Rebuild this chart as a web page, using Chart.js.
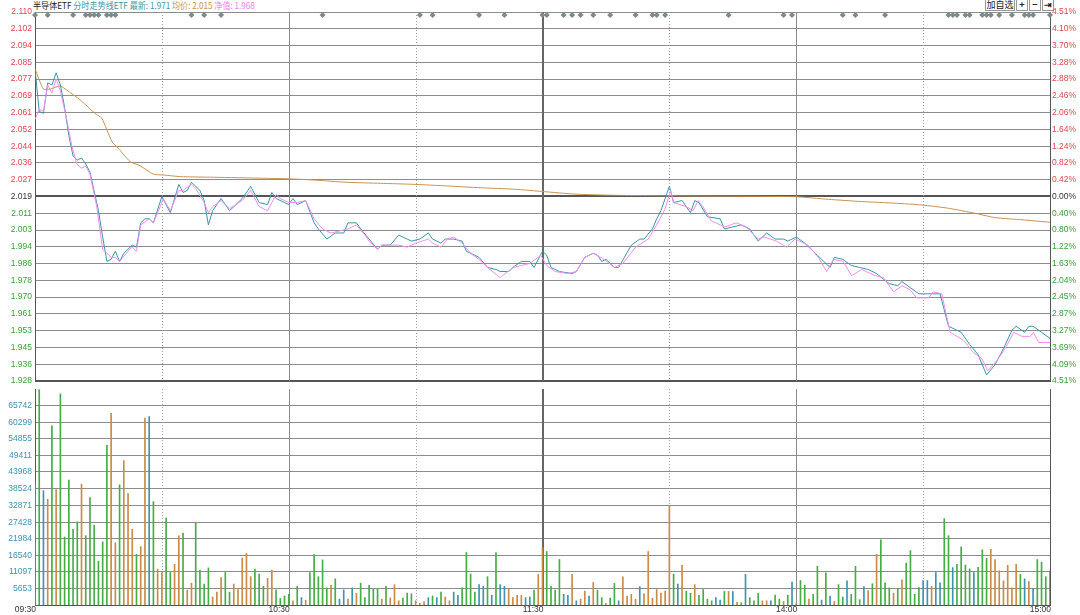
<!DOCTYPE html>
<html>
<head>
<meta charset="utf-8">
<script src="https://cdn.jsdelivr.net/npm/chart.js@4.4.0/dist/chart.umd.min.js"></script>
<style>
    body { margin: 0; background: #fff; width: 1080px; height: 615px; overflow: hidden; position: relative; }
    #priceChart { position: absolute; left: 0; top: 0; }
    #volChart { position: absolute; left: 0; top: 381px; }
    #title {
        position: absolute; left: 33px; top: 0; font-size: 9px; line-height: 11px; white-space: nowrap;
        font-family: "Noto Sans CJK SC", "Liberation Sans", sans-serif; transform: scaleX(0.9); transform-origin: left top;
    }
    #tools { position: absolute; left: 985px; top: 0; height: 11px; display: flex; font-family: "Noto Sans CJK SC", sans-serif; }
    #tools span {
        display: block; height: 10px; line-height: 10px; border: 1px solid #999; border-top: none; font-size: 9px;
        color: #222; text-align: center; margin-right: 1px; background: #fff;
    }
</style>
</head>
<body>
<div id="title"><span style="color:#222">半导体ETF</span> <span style="color:#3a9aa6">分时走势线ETF 最新: 1.971</span> <span style="color:#c8924c">均价: 2.015</span> <span style="color:#f27df2">净值: 1.968</span></div>
<div id="tools"><span style="width:28px">加自选</span><span style="width:10px;font-weight:bold">+</span><span style="width:10px;font-weight:bold">−</span><span style="width:10px;font-weight:bold">⇥</span></div>
<canvas id="priceChart" width="1080" height="392"></canvas>
<canvas id="volChart" width="1080" height="234"></canvas>
<script>
// minutes from 09:30 (0) to 15:00 (240), midday break removed
const timeTicks = [0, 60, 120, 180, 240];
const timeLabels = ['09:30', '10:30', '11:30', '14:00', '15:00'];

const priceTickLabels = ['2.110', '2.102', '2.094', '2.085', '2.077', '2.069', '2.061', '2.052', '2.044', '2.036', '2.027', '2.019',
    '2.011', '2.003', '1.994', '1.986', '1.978', '1.970', '1.961', '1.953', '1.945', '1.936', '1.928'];
const pctTickLabels = ['4.51%', '4.10%', '3.70%', '3.28%', '2.88%', '2.46%', '2.06%', '1.64%', '1.24%', '0.82%', '0.42%', '0.00%',
    '0.40%', '0.80%', '1.22%', '1.63%', '2.04%', '2.45%', '2.87%', '3.27%', '3.69%', '4.09%', '4.51%'];
const volTickLabels = [65742, 60299, 54855, 49411, 43968, 38524, 32871, 27428, 21984, 16540, 11097, 5653];

// 分时 price line
const priceT = [0, 1, 2, 3, 4, 5, 6, 7, 8, 9, 10, 11, 12, 13, 15, 16, 17, 18, 19, 20, 21, 23, 24, 25, 26, 27, 28, 30, 32, 34,
    35, 36, 37, 39, 40, 41, 42, 44, 46, 49, 51, 53, 55, 56, 57, 60, 61, 62, 64, 66, 67, 69, 71, 73, 74, 76, 77, 79, 81, 82,
    84, 86, 88, 89, 91, 93, 94, 96, 97, 99, 101, 102, 104, 105, 107, 109, 110, 112, 113, 115, 117, 118, 120, 121, 122, 124, 127, 128, 130, 132,
    133, 134, 135, 137, 138, 141, 143, 144, 146, 147, 148, 150, 151, 153, 155, 156, 157, 159, 162, 163, 165, 167, 169, 171, 173, 175, 177, 178, 180, 182,
    185, 188, 189, 191, 193, 195, 197, 199, 202, 204, 205, 207, 209, 211, 212, 214, 216, 219, 221, 223, 225, 227, 229, 231, 232, 234, 235, 236, 238, 240];
const priceV = [2.082, 2.061, 2.060, 2.075, 2.074, 2.080, 2.074, 2.063, 2.049, 2.039, 2.037, 2.038, 2.035, 2.031, 2.012, 1.999, 1.987, 1.988, 1.992, 1.987,
    1.991, 1.995, 1.994, 2.006, 2.008, 2.008, 2.006, 2.019, 2.011, 2.025, 2.021, 2.022, 2.026, 2.022, 2.017, 2.005, 2.012, 2.018, 2.012, 2.018,
    2.024, 2.016, 2.015, 2.021, 2.018, 2.015, 2.018, 2.015, 2.017, 2.006, 2.003, 1.998, 2.001, 2.001, 2.006, 2.006, 2.003, 1.998, 1.993, 1.995,
    1.995, 2.000, 1.998, 1.997, 1.998, 2.001, 1.998, 1.996, 1.998, 1.998, 1.997, 1.992, 1.990, 1.989, 1.984, 1.983, 1.982, 1.982, 1.984, 1.987,
    1.987, 1.984, 1.992, 1.990, 1.984, 1.982, 1.981, 1.982, 1.989, 1.991, 1.990, 1.987, 1.988, 1.984, 1.984, 1.995, 1.998, 1.998, 2.003, 2.008,
    2.012, 2.024, 2.016, 2.017, 2.011, 2.017, 2.016, 2.009, 2.008, 2.003, 2.004, 2.005, 2.003, 1.997, 2.001, 1.998, 1.998, 1.997, 1.999, 1.996,
    1.990, 1.984, 1.989, 1.988, 1.985, 1.984, 1.983, 1.981, 1.976, 1.975, 1.977, 1.974, 1.971, 1.971, 1.971, 1.971, 1.955, 1.952, 1.946, 1.941,
    1.931, 1.936, 1.944, 1.953, 1.955, 1.952, 1.955, 1.955, 1.952, 1.949];

// 净值 line
const netT = [0, 1, 2, 3, 4, 5, 6, 7.5, 8.7, 9.9, 11, 12, 13, 14.6, 16, 18, 19, 20, 22, 23, 24, 25, 27, 28, 29.6, 30.3, 32, 34, 35, 37,
    38, 40, 41, 42, 44, 46, 49, 51, 53, 55, 57, 58, 60, 62, 64, 66, 68, 70, 72, 74, 76, 78, 79, 81, 82, 86, 88, 90, 93, 94,
    96, 97.5, 99, 101, 103, 105, 107, 110, 113, 115, 117, 119.6, 121, 123, 126, 128, 130, 132, 134.6, 137, 139, 142, 145, 147, 149, 150.3, 151, 154, 155.6, 156.8,
    157.9, 159.9, 163.1, 165.8, 168.2, 171, 172.5, 175.3, 177.7, 179.7, 182.8, 185.2, 187.2, 188.8, 191.1, 193.1, 195.5, 198.6, 200.6, 203, 205, 206.9, 208.5, 211.3, 212.4, 214.4, 216.4, 219.6, 221.9, 223.9,
    225.3, 227.4, 229.4, 231.4, 233.4, 235.3, 236.1, 237.3, 240];
const netV = [2.057, 2.062, 2.061, 2.074, 2.070, 2.077, 2.071, 2.057, 2.044, 2.035, 2.033, 2.034, 2.030, 2.014, 1.993, 1.989, 1.989, 1.987, 1.992, 1.994,
    1.992, 2.005, 2.008, 2.006, 2.014, 2.018, 2.012, 2.022, 2.022, 2.025, 2.023, 2.016, 2.011, 2.014, 2.017, 2.013, 2.017, 2.022, 2.014, 2.012,
    2.020, 2.018, 2.016, 2.016, 2.017, 2.008, 2.003, 2.001, 2.002, 2.003, 2.005, 2.000, 1.997, 1.993, 1.995, 1.995, 1.994, 1.996, 1.998, 1.996,
    1.994, 1.998, 1.999, 1.996, 1.991, 1.988, 1.984, 1.979, 1.984, 1.985, 1.986, 1.990, 1.985, 1.982, 1.981, 1.982, 1.989, 1.991, 1.988, 1.984,
    1.986, 1.994, 1.998, 2.005, 2.013, 2.022, 2.016, 2.014, 2.012, 2.017, 2.014, 2.007, 2.004, 2.006, 2.004, 1.998, 1.999, 1.997, 1.994, 1.998,
    1.995, 1.989, 1.982, 1.988, 1.987, 1.980, 1.983, 1.980, 1.979, 1.972, 1.975, 1.973, 1.969, 1.969, 1.972, 1.971, 1.952, 1.948, 1.942, 1.939,
    1.933, 1.938, 1.944, 1.952, 1.950, 1.950, 1.952, 1.947, 1.947];

// 均价 line
const avgT = [0, 2, 3.6, 5.9, 7.5, 10.7, 14.2, 15.8, 18.2, 19.7, 22.5, 24.9, 28, 30.4, 34.4, 42.2, 54.1, 60.4, 66, 73.8,
    81.7, 89.6, 97.5, 105.4, 113.3, 120.4, 127.5, 137, 152.8, 179.7, 187.6, 195.5, 203.4, 209.7, 216, 222.3, 227, 233.4, 240];
const avgV = [2.082, 2.072, 2.072, 2.0735, 2.0715, 2.0666, 2.060, 2.0576, 2.046, 2.0428, 2.0362, 2.0341, 2.030, 2.0296, 2.0288, 2.0285, 2.028, 2.0277, 2.0271, 2.026,
    2.0255, 2.025, 2.0242, 2.0233, 2.0226, 2.0214, 2.0202, 2.0196, 2.0193, 2.0189, 2.0176, 2.0165, 2.0157, 2.0148, 2.0132, 2.0107, 2.0086, 2.0075, 2.0063];

// signal markers along the top edge (minutes)
const markT = [0, 3, 9, 12, 13, 14, 15, 17, 18, 19, 37, 40, 44, 68, 91, 94, 105, 111, 120, 121, 125, 127, 129, 132, 136, 142, 146, 147, 149,
    164, 177, 179, 191, 194, 201, 216, 217, 218, 220, 221, 224, 225, 226, 228, 231, 234, 235, 236, 240];

// per-minute volume, one bar each minute
const volume = [
    40770, 71000, 37800, 34960, 59110, 38140, 69600, 22560, 41310, 25100,
    27550, 39940, 22980, 35490, 26470, 14620, 20970, 52660, 63240, 20660,
    39720, 47670, 36860, 25100, 16840, 19390, 61650, 62180, 34220, 11980,
    10900, 28820, 10900, 13570, 22980, 23830, 5085, 7400, 27230, 11660,
    7090, 12390, 2860, 4450, 9220, 10900, 4450, 7090, 5300, 15670,
    17160, 9530, 11980, 10390, 6360, 8990, 11660, 5180, 2320, 3180,
    3720, 1590, 6360, 2640, 1810, 10900, 16750, 9530, 15030, 5820,
    6670, 8800, 2130, 5180, 2130, 5820, 4040, 7400, 2640, 6670,
    5500, 5500, 2130, 6360, 2540, 6900, 1590, 2450, 4130, 3910,
    1590, 730, 1370, 2640, 3180, 2640, 4450, 2860, 1590, 4450,
    3400, 5820, 17480, 10390, 4450, 6900, 6360, 9530, 3400, 17480,
    6900, 6360, 5500, 2640, 3400, 3400, 2640, 2860, 5085, 10270,
    19070, 17800, 6360, 5085, 15160, 3720, 3400, 10270, 1590, 2130,
    4770, 3180, 7630, 5085, 2640, 730, 2450, 7310, 1590, 9440,
    3180, 3720, 2130, 6260, 3910, 17800, 2450, 5300, 4130, 4770,
    32640, 10390, 7090, 13250, 4770, 4040, 6900, 3400, 5300, 2130,
    1590, 2640, 1810, 4660, 4660, 4660, 1070, 950, 10270, 2640,
    1590, 4040, 1590, 1590, 1590, 3500, 2130, 1370, 3400, 7730,
    730, 8260, 6670, 2130, 3720, 12930, 1810, 10800, 3180, 1370,
    6900, 2860, 8160, 3720, 12930, 1970, 6260, 4980, 7200, 16840,
    21610, 7520, 5820, 4130, 5500, 8480, 13980, 18110, 3720, 5930,
    8260, 8260, 6360, 10900, 7520, 28600, 22980, 12490, 13570, 19290,
    13350, 12080, 10900, 12620, 18340, 15570, 18530, 15160, 11440, 8160,
    13250, 5820, 13570, 10270, 8800, 7940, 5600, 15160, 14300, 9530,
    11440
];
// tick direction of each minute: u = up, d = down, f = flat
const volDir = ('fdfududddd' + 'dudddddduu' + 'duuuduufdu' + 'udduuduudd' + 'dduuudduuu' +
    'uuddduuddd' + 'dudfuddddd' + 'udffufuddd' + 'dduduuuddd' + 'uuufdfduuf' +
    'fddddffdfd' + 'ffuuuuffdu' + 'uddddffufu' + 'ufudduddfu' + 'uuufuuuuuu' +
    'udfudduddd' + 'dffdufudfd' + 'dduufddudf' + 'udduddfdfu' + 'ddfdddfudu' +
    'dddududddd' + 'ffuffddfdd' + 'ddfddduuuu' + 'uuudfufdddd').split('');

const FONT = { family: '"Liberation Sans", Arial, sans-serif', size: 8.5 };
const RED = '#e2474c';
const GREEN = '#36a336';
const DARK = '#333';
const GRID = '#8d8d8d';
const dirColor = { u: '#c98b45', d: '#44ad44', f: '#3d93b3' };

const priceMin = 1.928;
const priceMax = 2.110;
const priceStep = (priceMax - priceMin) / (priceTickLabels.length - 1);
const volStep = volTickLabels[0] - volTickLabels[1];
const volMax = volTickLabels[0] + volStep;
const volMin = volTickLabels[volTickLabels.length - 1] - volStep;

const toPoints = (ts, vs) => ts.map((t, i) => ({ x: t, y: vs[i] }));

// session dividers: dotted on the half hours, solid on the hours, darker at lunch break
const timeLines = {
    id: 'timeLines',
    beforeDatasetsDraw(chart) {
        const { ctx, chartArea } = chart;
        const x = chart.scales.x;
        const lines = [
            { t: 30, c: '#a0a0a0', w: 1, dash: [1, 2] },
            { t: 60, c: '#8a8a8a', w: 1, dash: [] },
            { t: 90, c: '#a0a0a0', w: 1, dash: [1, 2] },
            { t: 120, c: '#666', w: 2, dash: [] },
            { t: 150, c: '#a0a0a0', w: 1, dash: [1, 2] },
            { t: 180, c: '#8a8a8a', w: 1, dash: [] },
            { t: 210, c: '#a0a0a0', w: 1, dash: [1, 2] },
            { t: 240, c: '#555', w: 1, dash: [] }
        ];
        ctx.save();
        lines.forEach(l => {
            const px = Math.round(x.getPixelForValue(l.t)) + (l.w === 1 ? 0.5 : 0);
            ctx.strokeStyle = l.c;
            ctx.lineWidth = l.w;
            ctx.setLineDash(l.dash);
            ctx.beginPath();
            ctx.moveTo(px, chartArea.top);
            ctx.lineTo(px, chartArea.bottom);
            ctx.stroke();
        });
        ctx.restore();
    }
};

const markers = {
    id: 'markers',
    afterDatasetsDraw(chart) {
        const { ctx, chartArea } = chart;
        const x = chart.scales.x;
        const y = chartArea.top + 3;
        ctx.save();
        ctx.fillStyle = '#7d8a8a';
        markT.forEach(t => {
            const px = x.getPixelForValue(t);
            ctx.beginPath();
            ctx.moveTo(px, y - 3);
            ctx.lineTo(px + 3, y);
            ctx.lineTo(px, y + 3);
            ctx.lineTo(px - 3, y);
            ctx.closePath();
            ctx.fill();
        });
        ctx.restore();
    }
};

// time labels sit right-aligned against their tick, just under the volume panel
const timeAxisLabels = {
    id: 'timeAxisLabels',
    afterDraw(chart) {
        const { ctx, chartArea } = chart;
        const x = chart.scales.x;
        ctx.save();
        ctx.font = '8.5px "Liberation Sans", Arial, sans-serif';
        ctx.fillStyle = DARK;
        ctx.textAlign = 'right';
        ctx.textBaseline = 'middle';
        timeTicks.forEach((t, i) => {
            ctx.fillText(timeLabels[i], x.getPixelForValue(t) + 1, chartArea.bottom + 5);
        });
        ctx.restore();
    }
};

function priceTicks(scale) {
    scale.ticks = priceTickLabels.map((_, i) => ({ value: priceMin + i * priceStep }));
}
const mid = (priceTickLabels.length - 1) / 2;
const sideColor = (ctx) => ctx.index > mid ? RED : (ctx.index < mid ? GREEN : DARK);

document.addEventListener("DOMContentLoaded", () => {
    new Chart(document.getElementById('priceChart'), {
        type: 'line',
        data: {
            datasets: [
                { label: '净值', data: toPoints(netT, netV), borderColor: '#f58cf5', borderWidth: 1, pointRadius: 0, tension: 0 },
                { label: '分时', data: toPoints(priceT, priceV), borderColor: '#3797a3', borderWidth: 1, pointRadius: 0, tension: 0 },
                { label: '均价', data: toPoints(avgT, avgV), borderColor: '#c8934e', borderWidth: 1, pointRadius: 0, tension: 0.2 }
            ]
        },
        options: {
            responsive: false,
            animation: false,
            layout: { padding: { top: 12, bottom: 11, left: 0, right: 0 } },
            plugins: { legend: { display: false }, tooltip: { enabled: false } },
            scales: {
                x: { type: 'linear', min: 0, max: 240, display: false },
                y: {
                    position: 'left', min: priceMin, max: priceMax,
                    afterBuildTicks: priceTicks,
                    afterFit: (s) => { s.width = 35; },
                    ticks: {
                        padding: 3, font: FONT, color: sideColor,
                        callback: (v, i) => priceTickLabels[priceTickLabels.length - 1 - i]
                    },
                    grid: {
                        drawTicks: false,
                        color: (ctx) => (ctx.index === mid || ctx.index === 0) ? '#555' : GRID,
                        lineWidth: (ctx) => (ctx.index === mid || ctx.index === 0) ? 2 : 1
                    },
                    border: { display: true, color: '#555', width: 1 }
                },
                yr: {
                    position: 'right', min: priceMin, max: priceMax,
                    afterBuildTicks: priceTicks,
                    afterFit: (s) => { s.width = 30; },
                    ticks: {
                        padding: 2, font: FONT, color: sideColor,
                        callback: (v, i) => pctTickLabels[pctTickLabels.length - 1 - i]
                    },
                    grid: { drawOnChartArea: false, drawTicks: false },
                    border: { display: true, color: '#555', width: 1 }
                }
            }
        },
        plugins: [timeLines, markers]
    });

    new Chart(document.getElementById('volChart'), {
        type: 'bar',
        data: {
            datasets: [{
                label: '成交量',
                data: volume.map((v, i) => ({ x: i, y: v })),
                backgroundColor: volDir.map(d => dirColor[d]),
                barThickness: 1,
                borderWidth: 0
            }]
        },
        options: {
            responsive: false,
            animation: false,
            layout: { padding: { top: 0, bottom: 0, left: 0, right: 30 } },
            plugins: { legend: { display: false }, tooltip: { enabled: false } },
            scales: {
                x: {
                    type: 'linear', min: 0, max: 240, offset: false,
                    afterFit: (s) => { s.height = 10; },
                    ticks: { display: false },
                    grid: { display: false },
                    border: { display: true, color: '#555', width: 1 }
                },
                y: {
                    position: 'left', min: volMin, max: volMax,
                    afterBuildTicks: (s) => { s.ticks = volTickLabels.map(v => ({ value: v })).reverse(); },
                    afterFit: (s) => { s.width = 35; },
                    ticks: { padding: 3, font: FONT, color: '#3b93b0', callback: (v) => String(v) },
                    grid: { drawTicks: false, color: GRID, lineWidth: 1 },
                    border: { display: true, color: '#555', width: 1 }
                }
            }
        },
        plugins: [timeLines, timeAxisLabels]
    });
});
</script>
</body>
</html>
